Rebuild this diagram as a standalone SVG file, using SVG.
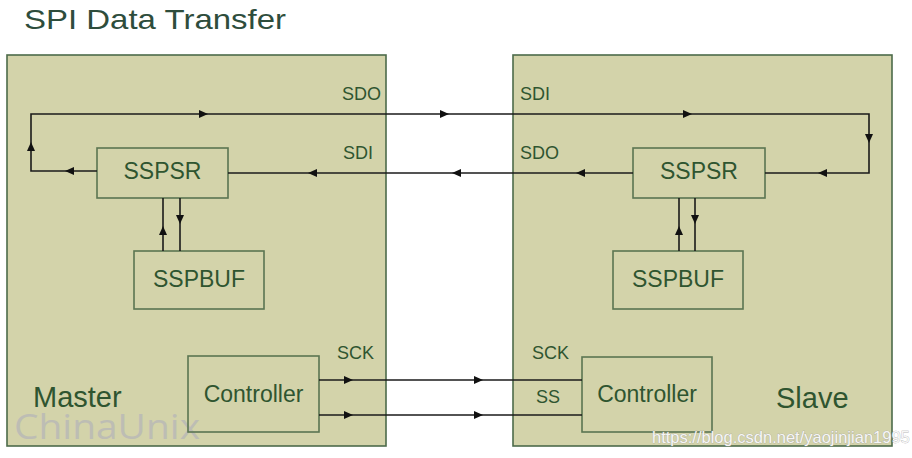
<svg xmlns="http://www.w3.org/2000/svg" xmlns:xlink="http://www.w3.org/1999/xlink" width="912" height="458" viewBox="0 0 912 458">
<style>
  .panel{fill:#d3d3aa;stroke:#4d6b4a;stroke-width:1.6}
  .box{fill:none;stroke:#5b7552;stroke-width:1.6}
  .t{font-family:"Liberation Sans",Arial,sans-serif;fill:#2f5530}
  .blk{font-size:23px;text-anchor:middle}
  .sig{font-size:18px}
  .big{font-size:29px}
  .wire{fill:none;stroke:#1b1b1b;stroke-width:1.6}
  .ah{fill:#111}
</style>
<defs>
  <path id="ah" d="M0,0 L-9,-4 L-9,4 Z"/>
</defs>
<rect width="912" height="458" fill="#ffffff"/>
<text x="24" y="29" font-family="'Liberation Sans',Arial,sans-serif" font-size="28.5" fill="#2e4d3c" textLength="262" lengthAdjust="spacingAndGlyphs">SPI Data Transfer</text>

<g id="master">
  <rect class="panel" x="7" y="55" width="379" height="391"/>
  <text class="t big" x="33" y="407">Master</text>
</g>
<g id="slave">
  <rect class="panel" x="513" y="55" width="379" height="391"/>
  <text class="t big" x="776" y="408">Slave</text>
</g>

<text x="14" y="439" font-family="'Open Sans','Liberation Sans',sans-serif" font-size="34" fill="#bdbdb4" textLength="186" lengthAdjust="spacingAndGlyphs">ChinaUnix</text>

<g id="master-sspsr">
  <rect class="box" x="97" y="148" width="131" height="50"/>
  <text class="t blk" x="162.5" y="179">SSPSR</text>
</g>
<g id="master-sspbuf">
  <rect class="box" x="134" y="251" width="130" height="58"/>
  <text class="t blk" x="199" y="287">SSPBUF</text>
</g>
<g id="master-controller">
  <rect class="box" x="188" y="356" width="131" height="76"/>
  <text class="t blk" x="253.5" y="402">Controller</text>
</g>
<g id="slave-sspsr">
  <rect class="box" x="633" y="148" width="132" height="50"/>
  <text class="t blk" x="699" y="179">SSPSR</text>
</g>
<g id="slave-sspbuf">
  <rect class="box" x="613" y="251" width="130" height="58"/>
  <text class="t blk" x="678" y="287">SSPBUF</text>
</g>
<g id="slave-controller">
  <rect class="box" x="582" y="357" width="130" height="75"/>
  <text class="t blk" x="647" y="402">Controller</text>
</g>

<g id="labels">
  <text class="t sig" x="381" y="100" text-anchor="end">SDO</text>
  <text class="t sig" x="373" y="159" text-anchor="end">SDI</text>
  <text class="t sig" x="520" y="100">SDI</text>
  <text class="t sig" x="520" y="159">SDO</text>
  <text class="t sig" x="337" y="359">SCK</text>
  <text class="t sig" x="532" y="359">SCK</text>
  <text class="t sig" x="536" y="403">SS</text>
</g>

<g id="connectors">
  <path class="wire" d="M97,171 H31 V114 H869 V173 H765"/>
  <path class="wire" d="M633,173 H228"/>
  <path class="wire" d="M163,251 V198 M180,198 V251"/>
  <path class="wire" d="M679,251 V198 M695,198 V251"/>
  <path class="wire" d="M319,380 H582 M319,415 H582"/>
  <g class="ah">
    <use xlink:href="#ah" transform="translate(65,171) rotate(180)"/>
    <use xlink:href="#ah" transform="translate(31,142) rotate(-90)"/>
    <use xlink:href="#ah" transform="translate(208,114)"/>
    <use xlink:href="#ah" transform="translate(449,114)"/>
    <use xlink:href="#ah" transform="translate(692,114)"/>
    <use xlink:href="#ah" transform="translate(869,143) rotate(90)"/>
    <use xlink:href="#ah" transform="translate(818,173) rotate(180)"/>
    <use xlink:href="#ah" transform="translate(576,173) rotate(180)"/>
    <use xlink:href="#ah" transform="translate(452,173) rotate(180)"/>
    <use xlink:href="#ah" transform="translate(308,173) rotate(180)"/>
    <use xlink:href="#ah" transform="translate(163,226) rotate(-90)"/>
    <use xlink:href="#ah" transform="translate(180,224) rotate(90)"/>
    <use xlink:href="#ah" transform="translate(679,226) rotate(-90)"/>
    <use xlink:href="#ah" transform="translate(695,224) rotate(90)"/>
    <use xlink:href="#ah" transform="translate(353,380)"/>
    <use xlink:href="#ah" transform="translate(353,415)"/>
    <use xlink:href="#ah" transform="translate(483,380)"/>
    <use xlink:href="#ah" transform="translate(483,415)"/>
  </g>
</g>

<text x="652" y="443" font-family="'Liberation Sans',Arial,sans-serif" font-size="16.5" fill="#f6f6f6" stroke="#9c9c9c" stroke-width="0.5" paint-order="stroke">https://blog.csdn.net/yaojinjian1995</text>
</svg>
